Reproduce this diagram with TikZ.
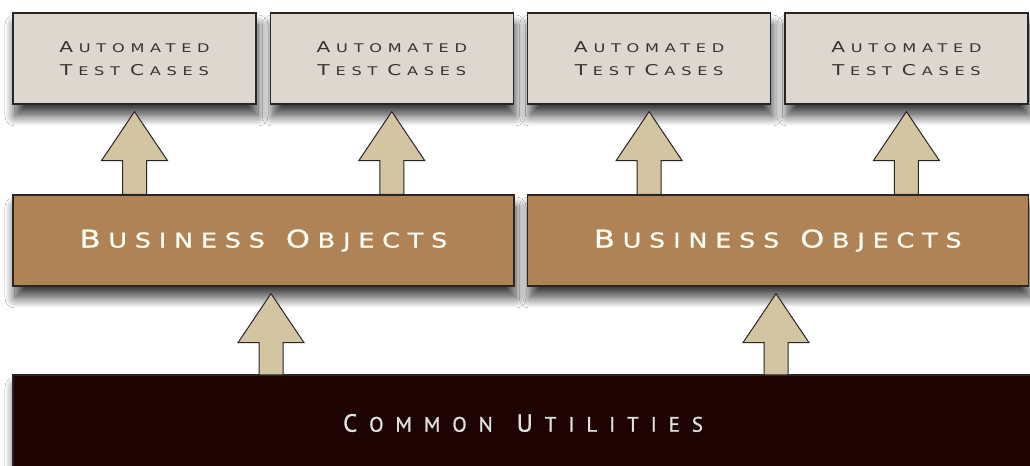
\documentclass[tikz,border=0pt]{standalone}
\usepackage{fontspec}
\usetikzlibrary{positioning,calc,shadows.blur}
\newfontfamily\testfont[LetterSpace=48,FakeStretch=1.35]{DejaVu Sans}
\newfontfamily\objfont[LetterSpace=38,FakeStretch=1.25,FakeBold=1]{DejaVu Sans}
\newfontfamily\utilfont[LetterSpace=57,FakeBold=1]{PT Sans}
\definecolor{testfill}{RGB}{222,215,207}
\definecolor{objfill}{RGB}{176,131,86}
\definecolor{utilfill}{RGB}{30,3,3}
\definecolor{arrowfill}{RGB}{212,197,162}
\definecolor{boxline}{RGB}{40,38,36}
\newcommand\tcap[1]{{\fontsize{15pt}{22pt}\selectfont #1}\kern5.8pt}
\newcommand\ocap[1]{{\fontsize{24.5pt}{28pt}\selectfont #1}\kern7.8pt}
\newcommand\ucap[1]{{\fontsize{25pt}{28pt}\selectfont #1}\kern12pt}
\newcommand\liftarrow[2]{%
	\filldraw[liftarrow] ($(#1)+(-12,0)$) -- ($(#2)+(-12,-49)$) -- ($(#2)+(-33,-49)$) -- (#2)
		-- ($(#2)+(33,-49)$) -- ($(#2)+(12,-49)$) -- ($(#1)+(12,0)$) -- cycle;}
\tikzset{%
	layer/.style={rectangle, draw=boxline, line width=1.3bp, inner sep=0pt,
		blur shadow={shadow xshift=2bp, shadow yshift=-12bp, shadow blur radius=10bp,
			shadow blur steps=12, shadow opacity=75}},
	testbox/.style={layer, fill=testfill, minimum width=243bp, minimum height=91bp, align=center,
		text=black!80, font=\testfont\fontsize{12pt}{22.5pt}\selectfont},
	objbox/.style={layer, fill=objfill, minimum width=501bp, minimum height=91bp,
		text=white!96!yellow, font=\objfont\fontsize{20.5pt}{24pt}\selectfont},
	utilbox/.style={layer, fill=utilfill, minimum width=1020bp, minimum height=96bp,
		text=black!12, font=\utilfont\fontsize{21pt}{24pt}\selectfont},
	liftarrow/.style={fill=arrowfill, draw=boxline, line width=1bp, line join=miter}
}
\begin{document}
\begin{tikzpicture}[x=1bp, y=1bp]
	\useasboundingbox[fill=white] (0,0) rectangle (1030,466);

	\node[utilbox] (cu) at (523,43) {\ucap{C}OMMON\hspace{24pt}\ucap{U}TILITIES};

	\node[objbox] (bo1) at (263.5,225.5) {\ocap{B}USINESS\hspace{21pt}\ocap{O}BJECTS};
	\node[objbox] (bo2) [right=12bp of bo1] {\ocap{B}USINESS\hspace{21pt}\ocap{O}BJECTS};

	\node[testbox] (t1) at (134.5,407.5) {\tcap{A}UTOMATED\\\tcap{T}EST\hspace{10pt}\tcap{C}ASES};
	\node[testbox] (t2) [right=13bp of t1] {\tcap{A}UTOMATED\\\tcap{T}EST\hspace{10pt}\tcap{C}ASES};
	\node[testbox] (t3) [right=13bp of t2] {\tcap{A}UTOMATED\\\tcap{T}EST\hspace{10pt}\tcap{C}ASES};
	\node[testbox] (t4) [right=13bp of t3] {\tcap{A}UTOMATED\\\tcap{T}EST\hspace{10pt}\tcap{C}ASES};

	\coordinate (a1) at (t1.south |- bo1.north);
	\coordinate (a2) at (t2.south |- bo1.north);
	\coordinate (a3) at (t3.south |- bo2.north);
	\coordinate (a4) at (t4.south |- bo2.north);
	\foreach \i in {1,...,4}{
		\coordinate (h\i) at ($(t\i.south)+(0,-7)$);
		\liftarrow{a\i}{h\i}
	}

	\coordinate (m1) at (271,91);
	\coordinate (m2) at (776,91);
	\coordinate (k1) at ($(m1 |- bo1.south)+(0,-7)$);
	\coordinate (k2) at ($(m2 |- bo2.south)+(0,-7)$);
	\liftarrow{m1}{k1}
	\liftarrow{m2}{k2}
\end{tikzpicture}
\end{document}
